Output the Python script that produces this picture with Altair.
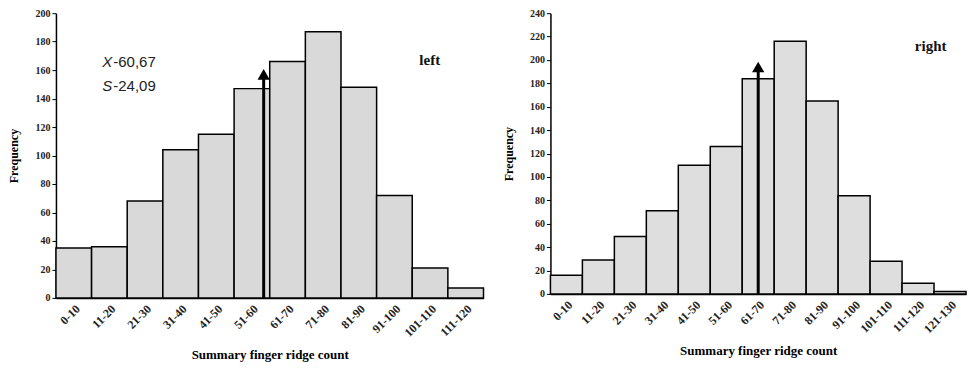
import json
import altair as alt
import pandas as pd

# ---- data ----
left_labels = ["0-10", "11-20", "21-30", "31-40", "41-50", "51-60", "61-70",
               "71-80", "81-90", "91-100", "101-110", "111-120"]
left_freq = [35, 36, 68, 104, 115, 147, 166, 187, 148, 72, 21, 7]

right_labels = ["0-10", "11-20", "21-30", "31-40", "41-50", "51-60", "61-70",
                "71-80", "81-90", "91-100", "101-110", "111-120", "121-130"]
right_freq = [16, 29, 49, 71, 110, 126, 184, 216, 165, 84, 28, 9, 2]

# arrow (mean) positions on the ridge-count axis and arrow heights
left_arrow_x, left_arrow_top = 58.3, 157
right_arrow_x, right_arrow_top = 65.0, 194

left_stat_symbols = ["X", "S"]
left_stat_values = ["-60,67", "-24,09"]
left_stat_y = [166, 149]
left_stat_x = 13

SERIF = "Liberation Serif"
SANS = "Liberation Sans"


def panel(labels, freq, ymax, fill, arrow_x, arrow_top, side_text, side_pos,
          width, height, stats=None):
    n = len(labels)
    df = pd.DataFrame({
        "label": labels,
        "freq": freq,
        "base": [0] * n,
        "start": [10 * i for i in range(n)],
        "end": [10 * (i + 1) for i in range(n)],
    })
    xs = alt.Scale(domain=[0, 10 * n], nice=False, zero=False)
    ys = alt.Scale(domain=[0, ymax], nice=False)
    label_expr = json.dumps(labels) + "[floor(datum.value/10)]"
    xaxis = alt.Axis(
        values=[10 * i + 5 for i in range(n)], labelExpr=label_expr,
        labelAngle=315, ticks=False, grid=False, title="Summary finger ridge count",
        titleFont=SERIF, titleFontWeight="bold", titleFontSize=13, titlePadding=10,
        labelFont=SERIF, labelFontSize=12, labelFontWeight="bold", labelColor="#222",
        domainColor="black", domainWidth=1.5, labelPadding=5, labelOverlap=False,
        labelFlush=False, labelBound=False,
    )
    yaxis = alt.Axis(
        values=list(range(0, ymax + 1, 20)), grid=False, tickSize=4,
        tickColor="black", domainColor="black", domainWidth=1.5,
        title="Frequency", titleFont=SERIF, titleFontWeight="bold",
        titleFontSize=12, titlePadding=14, labelFont=SERIF, labelFontSize=10,
        labelFontWeight="bold", labelColor="#222", labelOverlap=False,
        labelFlush=False, labelBound=False,
    )

    def X(f):
        return alt.X(f, scale=xs, axis=xaxis)

    def Y(f):
        return alt.Y(f, scale=ys, axis=yaxis)

    bars = alt.Chart(df).mark_bar(fill=fill, stroke="black", strokeWidth=1.5).encode(
        x=X("start:Q"), x2="end:Q", y=Y("freq:Q"), y2="base:Q",
    )
    adf = pd.DataFrame({"x": [arrow_x], "y0": [0], "y1": [arrow_top]})
    rule = alt.Chart(adf).mark_rule(color="black", strokeWidth=3).encode(
        x=X("x:Q"), y=Y("y0:Q"), y2="y1:Q")
    head = alt.Chart(adf).mark_point(shape="triangle-up", filled=True, size=150,
                                     color="black", opacity=1).encode(
        x=X("x:Q"), y=Y("y1:Q"))
    tdf = pd.DataFrame({"x": [side_pos[0]], "y": [side_pos[1]], "t": [side_text]})
    side = alt.Chart(tdf).mark_text(font=SERIF, fontWeight="bold", fontSize=15,
                                    align="left", color="#111").encode(
        x=X("x:Q"), y=Y("y:Q"), text="t:N")
    layers = [bars, rule, head, side]
    if stats is not None:
        sdf = pd.DataFrame({"x": [stats[3]] * len(stats[0]), "y": stats[2],
                            "sym": stats[0], "val": stats[1]})
        sym = alt.Chart(sdf).mark_text(font=SANS, fontStyle="italic", fontSize=15,
                                       align="left", color="#222").encode(
            x=X("x:Q"), y=Y("y:Q"), text="sym:N")
        val = alt.Chart(sdf).mark_text(font=SANS, fontSize=15, align="left",
                                       dx=11, color="#222").encode(
            x=X("x:Q"), y=Y("y:Q"), text="val:N")
        layers += [sym, val]
    return alt.layer(*layers).properties(width=width, height=height)


left = panel(left_labels, left_freq, 200, "#d9d9d9", left_arrow_x, left_arrow_top,
             "left", (102, 167), 428, 285,
             stats=(left_stat_symbols, left_stat_values, left_stat_y, left_stat_x))
right = panel(right_labels, right_freq, 240, "#dedede", right_arrow_x, right_arrow_top,
              "right", (114, 212), 416, 281)

chart = alt.hconcat(left, right, spacing=18).properties(
    padding={"left": 0, "top": 0, "right": 0, "bottom": 0},
    background="white",
).configure_view(stroke=None).configure_axis(labelOverlap=False)

chart.save("out.html", embed_options={"renderer": "svg", "actions": False})
